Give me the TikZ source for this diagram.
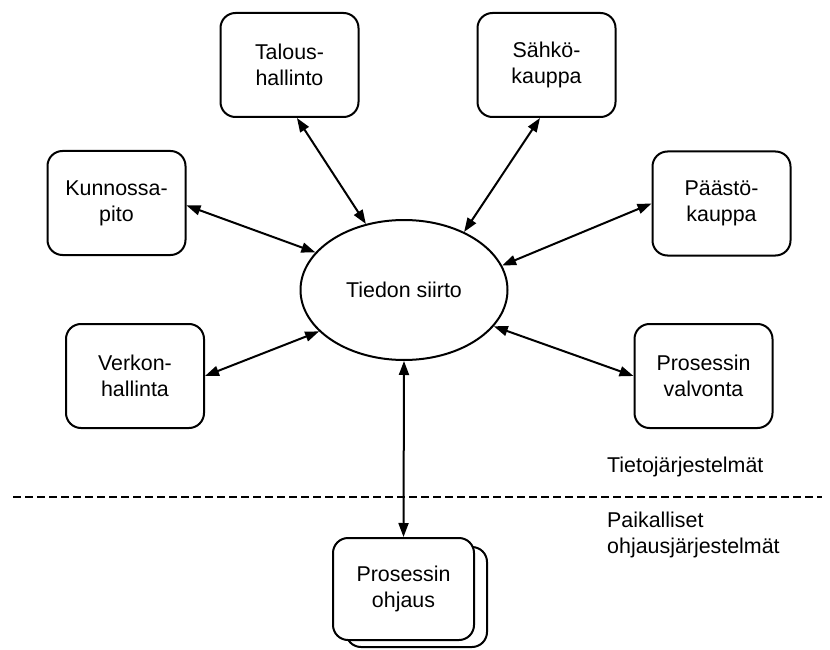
\documentclass[tikz,border=0pt]{standalone}
\usepackage{fontspec}
\setmainfont{Liberation Sans}
\usetikzlibrary{arrows.meta,shapes.geometric}
\begin{document}
\begin{tikzpicture}[x=1pt,y=-1pt,
  every node/.style={font=\fontsize{21.4}{26}\selectfont},
  box/.style={draw, line width=2pt, rounded corners=15pt, minimum width=138pt,
    minimum height=104pt, align=center, inner sep=0pt, fill=white},
  hub/.style={draw, ellipse, line width=2pt, minimum width=207pt,
    minimum height=140pt, inner sep=0pt},
  link/.style={line width=2pt,
    {Triangle[length=14pt,width=10pt]}-{Triangle[length=14pt,width=10pt]}},
  separator/.style={line width=2pt, dash pattern=on 8pt off 4pt},
  label/.style={inner sep=0pt, align=left}]
\useasboundingbox (0,0) rectangle (830,650);

% central hub
\node[hub] (hub) at (404,290) {Tiedon siirto};

% surrounding information systems
\node[box] (talous)    at (289.5,65)  {Talous-\\hallinto};
\node[box] (sahko)     at (546.5,65)  {Sähkö-\\kauppa};
\node[box] (kunnossa)  at (116.5,203) {Kunnossa-\\pito};
\node[box] (paasto)    at (721.5,203.5) {Päästö-\\kauppa};
\node[box] (verkko)    at (135,376)   {Verkon-\\hallinta};
\node[box] (valvonta)  at (703.5,376) {Prosessin\\valvonta};

% boundary between the two system levels
\coordinate (sepL) at (13,497);
\coordinate (sepR) at (822,497);
\draw[separator] (sepL) -- (sepR);

\node[label, anchor=west] (tieto) at (607,467) {Tietojärjestelmät};
\node[label, anchor=north west] (paikal) at (607,512) {Paikalliset\\ohjausjärjestelmät};

% local control systems (stacked boxes)
\node[box, minimum width=141pt, minimum height=100pt] (ohjausB) at (416.5,597) {};
\node[box, minimum width=141pt, minimum height=102pt] (ohjaus) at (403.5,589) {Prosessin\\ohjaus};

% connections to the hub
\draw[link] (talous.-82)   -- (hub.120.5);
\draw[link] (sahko.-97)    -- (hub.44);
\draw[link] (kunnossa.-2)  -- (hub.157);
\draw[link] (paasto.west)  -- (hub.14.2);
\draw[link] (verkko.east)  -- (hub.206.6);
\draw[link] (valvonta.west) -- (hub.-22);
\draw[link] (hub.south)    -- (ohjaus.north);
\end{tikzpicture}
\end{document}
